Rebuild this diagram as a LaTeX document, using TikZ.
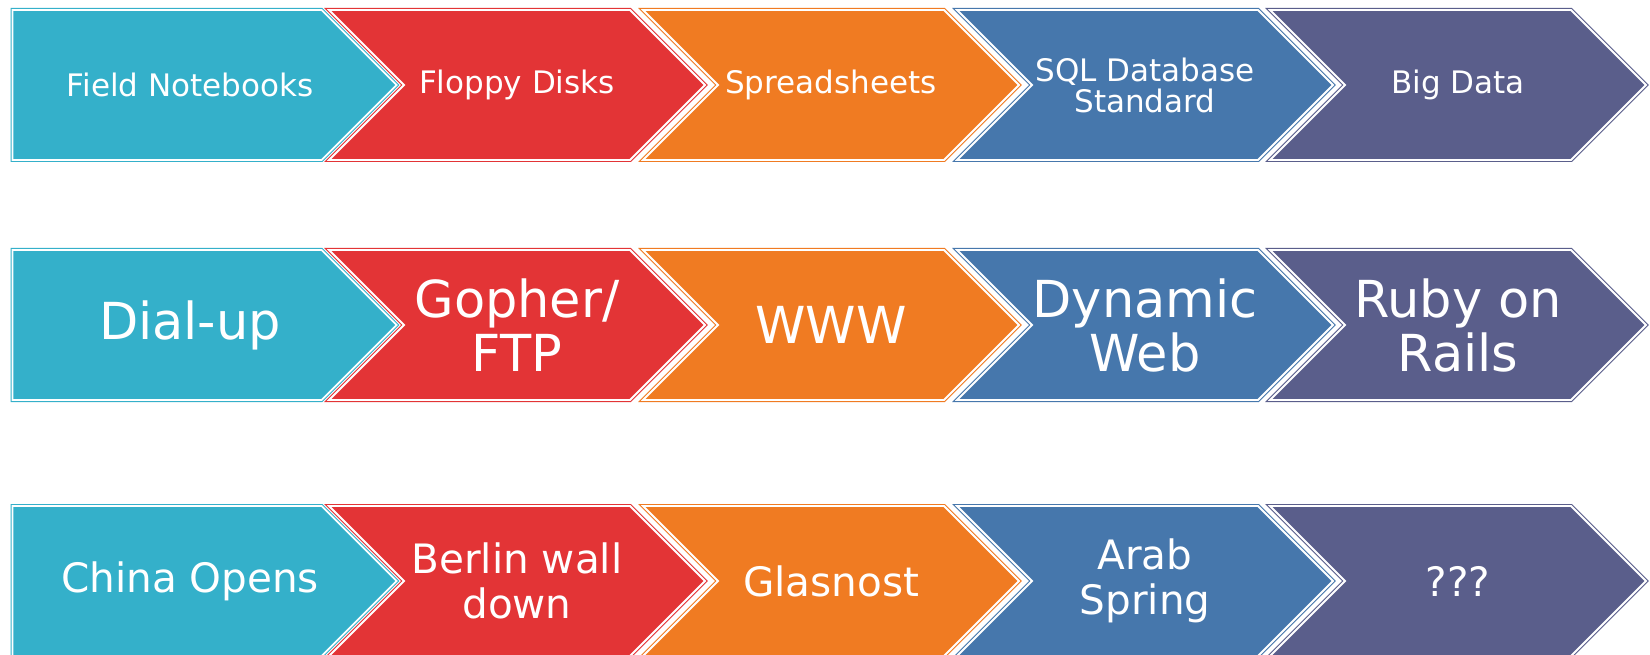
\documentclass[tikz,border=0pt]{standalone}
\usepackage{fontspec}
\setmainfont{DejaVu Sans}
\usetikzlibrary{shapes.symbols}
\definecolor{tealC}{RGB}{52,176,202}
\definecolor{redC}{RGB}{227,52,54}
\definecolor{orangeC}{RGB}{240,123,34}
\definecolor{blueC}{RGB}{70,119,172}
\definecolor{purpleC}{RGB}{90,94,139}
\begin{document}
\begin{tikzpicture}[x=1pt,y=-1pt,
    chev_node/.style={signal,signal to=east,signal from=west,signal pointer angle=90,
        draw=#1,fill=#1,double=white,double distance=1.8pt,line width=1.1pt,
        minimum width=376pt,minimum height=150pt,inner sep=0pt,text=white,align=center},
    first_node/.style={signal from=nowhere,minimum width=384pt,anchor=west},
    row_one/.style={font=\fontsize{31}{31}\selectfont},
    row_two/.style={font=\fontsize{51}{54}\selectfont},
    row_three/.style={font=\fontsize{40.5}{45}\selectfont}]
    \useasboundingbox (0,0) rectangle (1650,655);

    % data storage
    \node[chev_node=tealC,first_node,row_one] (s1) at (12,85) {\hspace*{46pt}Field Notebooks};
    \node[chev_node=redC,row_one] (s2) at (517,85) {Floppy Disks};
    \node[chev_node=orangeC,row_one] (s3) at (831,85) {Spreadsheets};
    \node[chev_node=blueC,row_one] (s4) at (1145,85) {SQL Database\\Standard};
    \node[chev_node=purpleC,row_one] (s5) at (1458,85) {Big Data};

    % web
    \node[chev_node=tealC,first_node,row_two] (w1) at (12,325) {\hspace*{46pt}Dial-up};
    \node[chev_node=redC,row_two] (w2) at (517,325) {Gopher/\\FTP};
    \node[chev_node=orangeC,row_two] (w3) at (831,325) {WWW};
    \node[chev_node=blueC,row_two] (w4) at (1145,325) {Dynamic\\Web};
    \node[chev_node=purpleC,row_two] (w5) at (1458,325) {Ruby on\\Rails};

    % world events
    \node[chev_node=tealC,first_node,row_three] (e1) at (12,581) {\hspace*{46pt}China Opens};
    \node[chev_node=redC,row_three] (e2) at (517,581) {Berlin wall\\down};
    \node[chev_node=orangeC,row_three] (e3) at (831,581) {Glasnost};
    \node[chev_node=blueC,row_three] (e4) at (1145,581) {Arab\\Spring};
    \node[chev_node=purpleC,row_three] (e5) at (1458,581) {???};
\end{tikzpicture}
\end{document}
